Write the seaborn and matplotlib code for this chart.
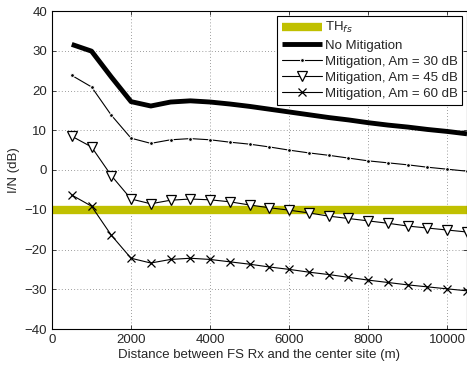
import matplotlib
matplotlib.use("Agg")
import matplotlib.pyplot as plt
import seaborn as sns

sns.set_style("ticks")
plt.rcParams['font.family'] = ['Liberation Sans', 'DejaVu Sans']

# distance between FS Rx and the center site (m)
distance = [500, 1000, 1500, 2000, 2500, 3000, 3500, 4000, 4500, 5000, 5500,
            6000, 6500, 7000, 7500, 8000, 8500, 9000, 9500, 10000, 10500]

th_fs = -10

no_mitigation = [31.6, 29.9, 23.4, 17.2, 16.1, 17.1, 17.4, 17.1, 16.6, 16.0, 15.3,
                 14.6, 13.9, 13.2, 12.6, 11.9, 11.3, 10.8, 10.2, 9.7, 9.1]
mitigation_30 = [23.8, 20.9, 13.8, 8.0, 6.7, 7.6, 7.9, 7.6, 7.0, 6.5, 5.8,
                 5.0, 4.3, 3.7, 3.0, 2.3, 1.8, 1.3, 0.7, 0.2, -0.3]
mitigation_45 = [8.5, 5.8, -1.4, -7.3, -8.5, -7.6, -7.3, -7.5, -8.0, -8.8, -9.5,
                 -10.1, -10.8, -11.6, -12.2, -12.8, -13.4, -14.1, -14.6, -15.1, -15.6]
mitigation_60 = [-6.3, -9.1, -16.4, -22.2, -23.4, -22.5, -22.2, -22.5, -23.1, -23.7, -24.4,
                 -25.0, -25.7, -26.3, -27.0, -27.7, -28.3, -28.9, -29.4, -29.9, -30.4]

fig = plt.figure(figsize=(4.67, 3.68), dpi=100)
ax = fig.add_axes([52 / 467, 39 / 368, 1 - 52 / 467, 318 / 368])

# threshold line
ax.axhline(th_fs, color='#c0c000', lw=6, label='TH$_{fs}$', zorder=1,
           solid_capstyle='butt')

sns.lineplot(x=distance, y=no_mitigation, ax=ax, color='black', lw=3.5,
             label='No Mitigation', zorder=3, solid_capstyle='butt')
sns.lineplot(x=distance, y=mitigation_30, ax=ax, color='black', lw=0.8,
             marker='.', markersize=5.5, label='Mitigation, Am = 30 dB', zorder=3)
sns.lineplot(x=distance, y=mitigation_45, ax=ax, color='black', lw=0.8,
             marker='v', markersize=7, markerfacecolor='white',
             markeredgecolor='black', markeredgewidth=0.9,
             label='Mitigation, Am = 45 dB', zorder=3)
sns.lineplot(x=distance, y=mitigation_60, ax=ax, color='black', lw=0.8,
             marker='x', markersize=6, markeredgecolor='black', markeredgewidth=0.9,
             label='Mitigation, Am = 60 dB', zorder=3)

ax.set_xlim(0, 10500)
ax.set_ylim(-40, 40)
ax.set_xticks([0, 2000, 4000, 6000, 8000, 10000])
ax.set_yticks(range(-40, 41, 10))
ax.set_yticklabels([str(v).replace('-', '\u2212') for v in range(-40, 41, 10)])
ax.grid(True, color='#444444', linestyle=(0, (1, 3.5)), lw=0.5)
ax.tick_params(direction='in', top=True, right=True, labelsize=9.5, length=3, width=0.6)
for s in ax.spines.values():
    s.set_linewidth(0.8)
    s.set_color('black')

ax.set_xlabel('Distance between FS Rx and the center site (m)', fontsize=9.5, labelpad=2)
ax.set_ylabel('I/N (dB)', fontsize=9.5, labelpad=3)

leg = ax.legend(loc='upper right', fontsize=9.5, fancybox=False, framealpha=1,
                edgecolor='black', borderaxespad=0.35, handlelength=3.0,
                handletextpad=0.25, labelspacing=0.3, borderpad=0.35)
leg.get_frame().set_linewidth(0.8)

fig.savefig('out.png', dpi=100)
